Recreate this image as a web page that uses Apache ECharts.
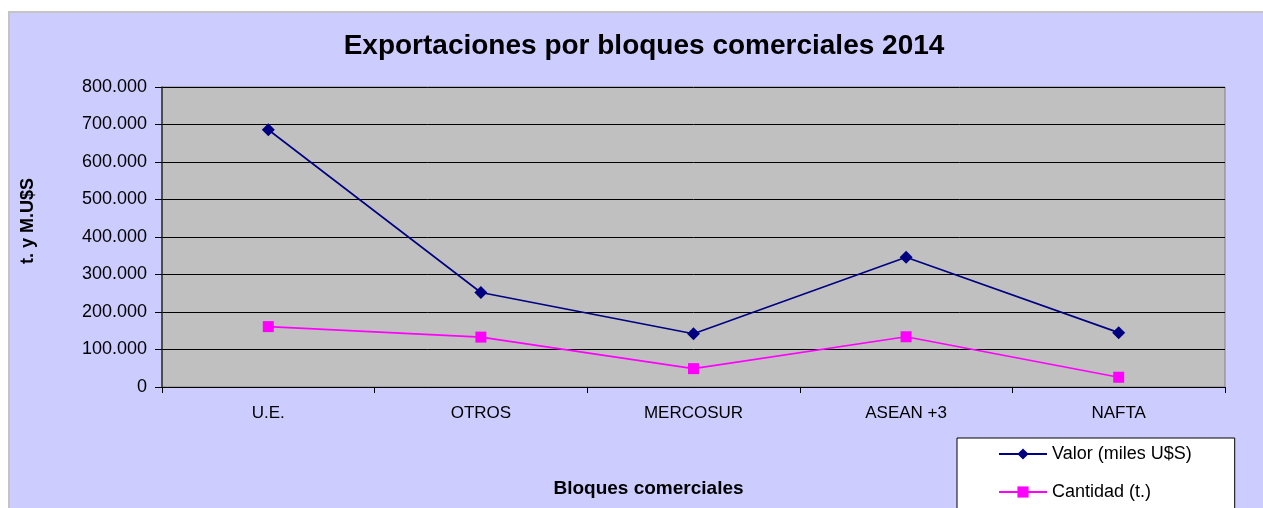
<!DOCTYPE html>
<html>
<head>
<meta charset="utf-8">
<script src="https://cdn.jsdelivr.net/npm/echarts@6/dist/echarts.min.js"></script>
<style>
  html, body { margin: 0; padding: 0; background: #ffffff; }
  #frame {
    position: absolute; left: 8px; top: 11px; width: 1260px; height: 500px;
    background: #ccccff; border-top: 2px solid #c4c4c4; border-left: 2px solid #c4c4c4;
  }
  #chart { position: absolute; left: 0; top: 0; width: 1263px; height: 508px; }
</style>
</head>
<body>
<div id="frame"></div>
<div id="chart"></div>
<script>
// bloques comerciales
var categorias = ['U.E.', 'OTROS', 'MERCOSUR', 'ASEAN +3', 'NAFTA'];
// valor exportado (miles U$S)
var valor = [686000, 252000, 142000, 346000, 145000];
// cantidad (t.)
var cantidad = [161000, 133000, 49000, 134000, 26000];

function miles(v) {
    return String(v).replace(/\B(?=(\d{3})+(?!\d))/g, '.');
}

var myChart = echarts.init(document.getElementById('chart'));

var option = {
    backgroundColor: 'transparent',
    animation: false,
    title: {
        text: 'Exportaciones por bloques comerciales 2014',
        left: 639,
        top: 27,
        textAlign: 'center',
        textStyle: {
            fontFamily: 'Liberation Sans, Arial, sans-serif',
            fontSize: 28,
            fontWeight: 'bold',
            color: '#000'
        }
    },
    legend: {
        orient: 'vertical',
        left: 957,
        top: 438,
        height: 200,
        padding: [7, 43, 30, 41],
        itemGap: 20,
        itemWidth: 48,
        itemHeight: 14,
        backgroundColor: '#ffffff',
        borderColor: '#000000',
        borderWidth: 1,
        borderRadius: 0,
        textStyle: {
            fontFamily: 'Liberation Sans, Arial, sans-serif',
            fontSize: 18,
            color: '#000'
        },
        data: ['Valor (miles U$S)', 'Cantidad (t.)']
    },
    grid: {
        left: 162,
        top: 87,
        width: 1063,
        height: 300,
        show: true,
        backgroundColor: '#c0c0c0',
        borderColor: '#808080',
        borderWidth: 1
    },
    xAxis: {
        type: 'category',
        data: categorias,
        boundaryGap: true,
        name: 'Bloques comerciales',
        nameLocation: 'middle',
        nameGap: 92,
        nameTextStyle: {
            fontFamily: 'Liberation Sans, Arial, sans-serif',
            fontSize: 19,
            fontWeight: 'bold',
            color: '#000',
            padding: [0, 90, 0, 0]
        },
        axisLine: { lineStyle: { color: '#000', width: 1 } },
        axisTick: { show: true, length: 6, lineStyle: { color: '#000' } },
        axisLabel: {
            margin: 18,
            fontFamily: 'Liberation Sans, Arial, sans-serif',
            fontSize: 17,
            color: '#000'
        },
        splitLine: { show: false }
    },
    yAxis: {
        type: 'value',
        min: 0,
        max: 800000,
        interval: 100000,
        name: 't. y M.U$S',
        nameLocation: 'middle',
        nameGap: 125,
        nameRotate: 90,
        nameTextStyle: {
            fontFamily: 'Liberation Sans, Arial, sans-serif',
            fontSize: 18,
            fontWeight: 'bold',
            color: '#000',
            padding: [0, 0, 0, 32]
        },
        axisLine: { show: true, lineStyle: { color: '#303030', width: 1.5 } },
        axisTick: { show: true, length: 7, lineStyle: { color: '#000' } },
        axisLabel: {
            margin: 15,
            fontFamily: 'Liberation Sans, Arial, sans-serif',
            fontSize: 18,
            color: '#000',
            formatter: miles
        },
        splitLine: { lineStyle: { color: '#000', width: 1 } }
    },
    series: [{
        name: 'Valor (miles U$S)',
        type: 'line',
        data: valor,
        symbol: 'diamond',
        symbolSize: 13,
        color: '#000080',
        lineStyle: { color: '#000080', width: 1.6 },
        itemStyle: { color: '#000080' }
    }, {
        name: 'Cantidad (t.)',
        type: 'line',
        data: cantidad,
        symbol: 'rect',
        symbolSize: 11,
        color: '#ff00ff',
        lineStyle: { color: '#ff00ff', width: 1.6 },
        itemStyle: { color: '#ff00ff' }
    }]
};

myChart.setOption(option);
</script>
</body>
</html>
